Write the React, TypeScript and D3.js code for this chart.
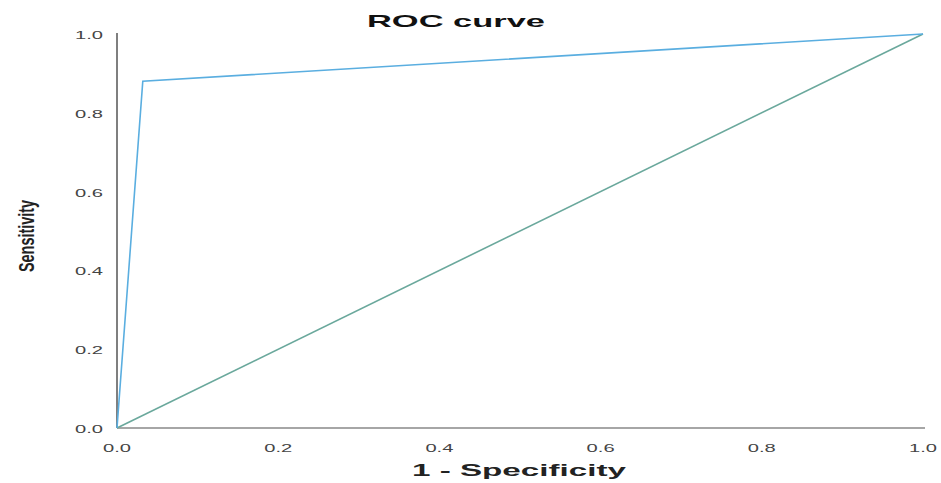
import React from "react";
import * as d3 from "d3";

const rocX = [0, 0.032, 1];
const rocY = [0, 0.88, 1];
const refX = [0, 1];
const refY = [0, 1];
const tickValues = [0, 0.2, 0.4, 0.6, 0.8, 1.0];
const tickLabels = ["0.0", "0.2", "0.4", "0.6", "0.8", "1.0"];
const title = "ROC curve";
const xTitle = "1 - Specificity";
const yTitle = "Sensitivity";

export default function App() {
  const W = 941, H = 483;
  const x = d3.scaleLinear().domain([0, 1]).range([117, 923]);
  const y = d3.scaleLinear().domain([0, 1]).range([428, 34]);
  const line = d3.line<[number, number]>().x(d => x(d[0])).y(d => y(d[1]));
  const roc = line(rocX.map((v, i) => [v, rocY[i]] as [number, number]));
  const ref = line(refX.map((v, i) => [v, refY[i]] as [number, number]));
  const font = "Liberation Sans, Arial, sans-serif";
  return (
    <svg width={W} height={H} style={{ position: "absolute", left: 0, top: 0 }} fontFamily={font}>
      <rect width={W} height={H} fill="#fff" />
      <text x={456} y={27} textAnchor="middle" fontSize={17} fill="#111" textLength={178} lengthAdjust="spacingAndGlyphs" fontWeight="bold">{title}</text>
      <line x1={x(0)} x2={x(0)} y1={y(1) - 1} y2={y(0)} stroke="#555" strokeWidth={1.5} />
      <line x1={x(0)} x2={x(1) + 2} y1={y(0)} y2={y(0)} stroke="#888" strokeWidth={1.3} />
      {tickValues.map((v, i) => (
        <text key={"x" + i} x={x(v)} y={y(0) + 24} textAnchor="middle" fontSize={11} fill="#444" textLength={28} lengthAdjust="spacingAndGlyphs">{tickLabels[i]}</text>
      ))}
      {tickValues.map((v, i) => (
        <text key={"y" + i} x={x(0) - 14} y={y(v) + 5} textAnchor="end" fontSize={11} fill="#444" textLength={28} lengthAdjust="spacingAndGlyphs">{tickLabels[i]}</text>
      ))}
      <text x={519} y={476} textAnchor="middle" fontSize={17} fontWeight="bold" fill="#222" textLength={214} lengthAdjust="spacingAndGlyphs">{xTitle}</text>
      <text transform={`translate(34,236) rotate(-90)`} textAnchor="middle" fontSize={22} fontWeight="bold" fill="#222" textLength={72} lengthAdjust="spacingAndGlyphs">{yTitle}</text>
      <path d={ref ?? ""} fill="none" stroke="#6aa89c" strokeWidth={1.6} />
      <path d={roc ?? ""} fill="none" stroke="#5aaee0" strokeWidth={1.6} />
    </svg>
  );
}
